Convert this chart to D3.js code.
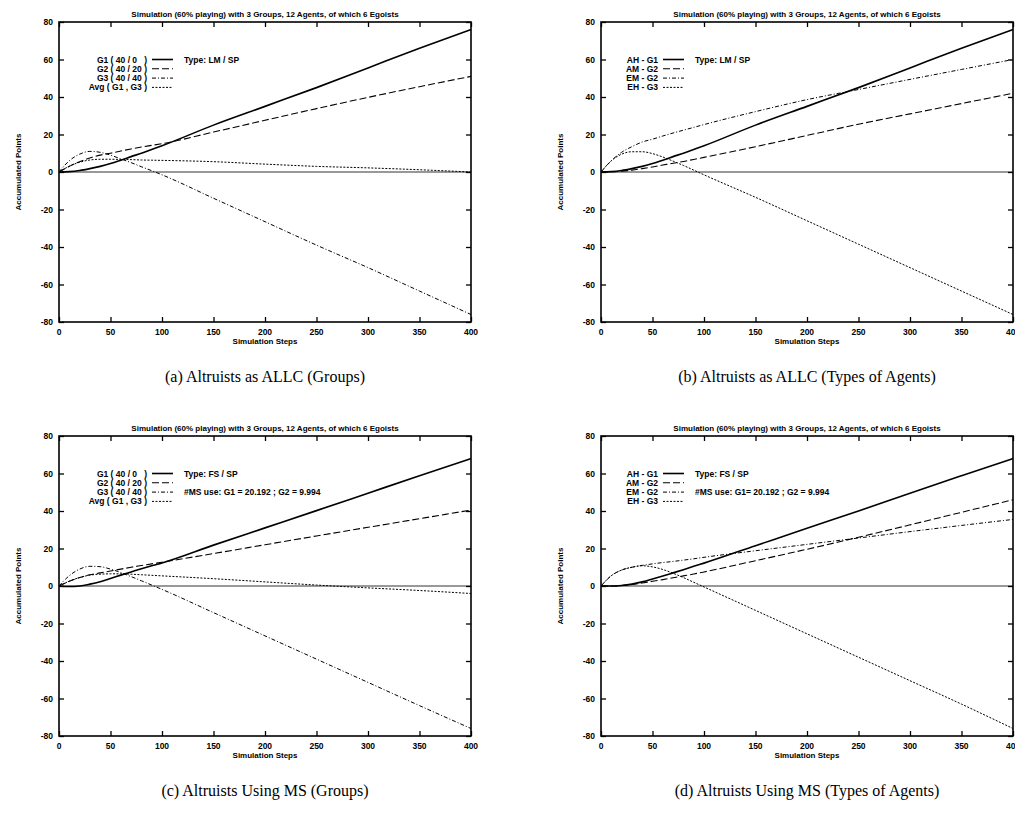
<!DOCTYPE html>
<html>
<head>
<meta charset="utf-8">
<script src="https://cdn.jsdelivr.net/npm/d3@7"></script>
<style>
  body { margin: 0; background: #fff; }
  svg text { font-family: "Liberation Sans", Arial, sans-serif; font-weight: bold; fill: #000; white-space: pre; }
  svg text.caption { font-family: "Liberation Serif", "DejaVu Serif", serif; font-weight: normal; font-size: 16px; }
</style>
</head>
<body>
<svg id="chart" width="1015" height="820"></svg>
<script>
// simulation steps shared by all panels
const steps = [0, 10, 20, 30, 40, 50, 60, 70, 80, 90, 100, 150, 200, 250, 300, 350, 400];
const xTicks = [0, 50, 100, 150, 200, 250, 300, 350, 400];
const yTicks = [-80, -60, -40, -20, 0, 20, 40, 60, 80];

const chartTitle = "Simulation (60% playing) with 3 Groups, 12 Agents, of which 6 Egoists";

// (a) ALLC, groups
const aG1  = [0, 0.2, 0.8, 1.8, 3, 4.5, 6.3, 8.2, 10, 12, 14, 25, 35, 45, 55.5, 66, 76];
const aG2  = [0, 3, 5.5, 7.5, 9, 10, 11.2, 12.3, 13.3, 14.2, 15.1, 21.3, 27.6, 33.8, 39.8, 45.5, 51];
const aG3  = [0, 6, 9.5, 11, 10.5, 9, 7, 5, 2.8, 0.7, -1.5, -14, -26.5, -39, -51, -63.5, -76];
const aAvg = [0, 3.1, 5.2, 6.4, 6.8, 6.8, 6.7, 6.6, 6.4, 6.3, 6.2, 5.5, 4.2, 3, 2.2, 1.2, 0];

// (b) ALLC, types of agents
const bAH = [0, 0.2, 0.8, 1.8, 3, 4.5, 6.3, 8.2, 10, 12, 14, 25, 35, 45, 55.5, 66, 76];
const bAM = [0, 0.1, 0.4, 1, 1.8, 2.7, 3.7, 4.7, 5.6, 6.7, 7.8, 13.5, 19.5, 25.5, 31, 36.5, 42];
const bEM = [0, 6, 10.5, 13.5, 16, 17.5, 19.2, 20.8, 22.3, 23.8, 25.3, 32.2, 38.6, 44, 49.4, 54.7, 60];
const bEH = [0, 6, 9.5, 10.8, 10.8, 9.8, 8, 5.8, 3.5, 1, -1.5, -13.5, -26, -38.5, -51, -63.5, -76];

// (c) MS, groups
const cG1  = [0, -0.3, 0, 1, 2.3, 4, 5.8, 7.5, 9.2, 10.8, 12.3, 21.8, 31, 40.2, 49.5, 58.8, 68];
const cG2  = [0, 2.5, 4.5, 6, 7, 8, 9, 10, 10.9, 11.8, 12.7, 17.3, 22, 26.7, 31.3, 35.9, 40.5];
const cG3  = [0, 5.5, 9, 10.5, 10.3, 9, 7.2, 5, 2.8, 0.5, -1.8, -14.2, -26.6, -39, -51.4, -63.8, -76];
const cAvg = [0, 2.6, 4.5, 5.8, 6.3, 6.5, 6.5, 6.3, 6, 5.7, 5.4, 3.9, 2.2, 0.5, -1, -2.4, -4];

// (d) MS, types of agents
const dAH = [0, 0, 0.3, 1, 2.2, 3.7, 5.3, 7, 8.7, 10.5, 12.2, 21.5, 30.8, 40, 49.5, 58.8, 68];
const dAM = [0, 0, 0.3, 0.8, 1.6, 2.5, 3.4, 4.4, 5.4, 6.4, 7.5, 13.5, 19.6, 26, 32.6, 39.3, 46];
const dEM = [0, 5.5, 8.5, 10, 11, 11.8, 12.5, 13.1, 13.8, 14.5, 15.3, 18.8, 22.2, 25.6, 29, 32.3, 35.5];
const dEH = [0, 5.5, 8.5, 10, 10.8, 10.2, 8.8, 6.8, 4.5, 2, -0.5, -13, -25.5, -38, -50.5, -63, -76];

const groupLabels = ["G1 ( 40 / 0   )", "G2 ( 40 / 20 )", "G3 ( 40 / 40 )", "Avg ( G1 , G3 )"];
const typeLabels  = ["AH - G1", "AM - G2", "EM - G2", "EH - G3"];

// gnuplot-ish line types: solid, long dash, dash-dot, dotted
const lineStyles = [
  { dash: null, width: 1.6 },
  { dash: "7,3", width: 1.1 },
  { dash: "4,2,1,2", width: 1 },
  { dash: "2,1.5", width: 1 }
];

const panels = [
  { left: 59,  top: 22,  series: [aG1, aG2, aG3, aAvg], labels: groupLabels, legendRight: 88,
    notes: ["Type: LM / SP"], caption: "(a) Altruists as ALLC (Groups)" },
  { left: 601, top: 22,  series: [bAH, bAM, bEM, bEH], labels: typeLabels, legendRight: 57,
    notes: ["Type: LM / SP"], caption: "(b) Altruists as ALLC (Types of Agents)" },
  { left: 59,  top: 436, series: [cG1, cG2, cG3, cAvg], labels: groupLabels, legendRight: 88,
    notes: ["Type: FS / SP", "#MS use: G1 = 20.192 ; G2 = 9.994"], caption: "(c) Altruists Using MS (Groups)" },
  { left: 601, top: 436, series: [dAH, dAM, dEM, dEH], labels: typeLabels, legendRight: 57,
    notes: ["Type: FS / SP", "#MS use: G1= 20.192 ; G2 = 9.994"], caption: "(d) Altruists Using MS (Types of Agents)" }
];

const W = 412, H = 300;
const svg = d3.select("#chart");

panels.forEach(p => {
  const g = svg.append("g").attr("transform", `translate(${p.left},${p.top})`);
  const x = d3.scaleLinear().domain([0, 400]).range([0, W]);
  const y = d3.scaleLinear().domain([-80, 80]).range([H, 0]);

  // zero axis
  g.append("line")
    .attr("x1", 0).attr("x2", W).attr("y1", y(0)).attr("y2", y(0))
    .attr("stroke", "#333").attr("stroke-width", 1);

  // curves
  const line = d3.line().x((d, i) => x(steps[i])).y(d => y(d)).curve(d3.curveMonotoneX);
  p.series.forEach((s, i) => {
    g.append("path").datum(s)
      .attr("d", line)
      .attr("fill", "none")
      .attr("stroke", "#000")
      .attr("stroke-width", lineStyles[i].width)
      .attr("stroke-dasharray", lineStyles[i].dash);
  });

  // axes, ticks pointing inward on all four sides
  const bottom = g.append("g").attr("transform", `translate(0,${H})`)
    .call(d3.axisTop(x).tickValues(xTicks).tickSize(5).tickFormat(""));
  const top = g.append("g")
    .call(d3.axisBottom(x).tickValues(xTicks).tickSize(5).tickFormat(""));
  const leftAx = g.append("g")
    .call(d3.axisRight(y).tickValues(yTicks).tickSize(5).tickFormat(""));
  const rightAx = g.append("g").attr("transform", `translate(${W},0)`)
    .call(d3.axisLeft(y).tickValues(yTicks).tickSize(5).tickFormat(""));
  [bottom, top, leftAx, rightAx].forEach(a => {
    a.select(".domain").remove();
    a.selectAll("line").attr("stroke", "#000").attr("stroke-width", 1.3);
  });

  // tick labels
  g.selectAll(".xl").data(xTicks).enter().append("text")
    .attr("x", d => x(d)).attr("y", H + 13)
    .attr("text-anchor", "middle").attr("font-size", 8.5).text(d => d);
  g.selectAll(".yl").data(yTicks).enter().append("text")
    .attr("x", -6).attr("y", d => y(d) + 3)
    .attr("text-anchor", "end").attr("font-size", 8.5).text(d => d);

  // frame
  g.append("rect").attr("width", W).attr("height", H)
    .attr("fill", "none").attr("stroke", "#000").attr("stroke-width", 1.6);

  // titles
  g.append("text").attr("x", W / 2).attr("y", -5)
    .attr("text-anchor", "middle").attr("font-size", 8).text(chartTitle);
  g.append("text").attr("x", W / 2).attr("y", H + 22)
    .attr("text-anchor", "middle").attr("font-size", 8).text("Simulation Steps");
  g.append("text")
    .attr("transform", `translate(-38,${H / 2}) rotate(-90)`)
    .attr("text-anchor", "middle").attr("font-size", 8).text("Accumulated Points");

  // legend
  const rowH = 9.3, y0 = y(60);
  p.labels.forEach((lab, i) => {
    const ry = y0 + i * rowH;
    g.append("text").attr("x", p.legendRight).attr("y", ry + 3)
      .attr("text-anchor", "end").attr("font-size", 8.5).text(lab);
    g.append("line")
      .attr("x1", p.legendRight + 5).attr("x2", p.legendRight + 26)
      .attr("y1", ry).attr("y2", ry)
      .attr("stroke", "#000")
      .attr("stroke-width", lineStyles[i].width)
      .attr("stroke-dasharray", lineStyles[i].dash);
  });
  p.notes.forEach((n, i) => {
    g.append("text").attr("x", p.legendRight + 37).attr("y", y0 + 3 + i * 2 * rowH)
      .attr("font-size", 8.5).text(n);
  });

  // caption
  g.append("text").attr("class", "caption")
    .attr("x", W / 2).attr("y", H + 60)
    .attr("text-anchor", "middle").text(p.caption);
});
</script>
</body>
</html>
